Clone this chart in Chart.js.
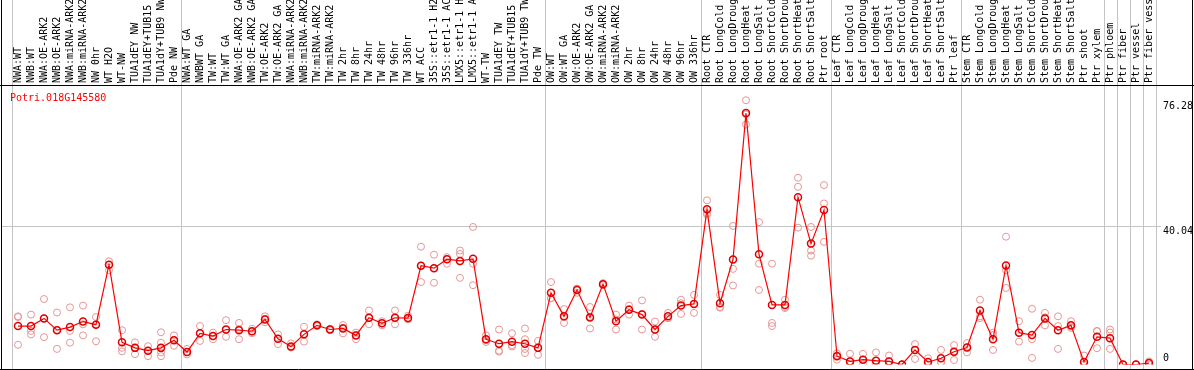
<!DOCTYPE html>
<html>
<head>
<meta charset="utf-8">
<script src="https://cdn.jsdelivr.net/npm/chart.js@4.4.1/dist/chart.umd.min.js"></script>
<style>
  html, body { margin:0; padding:0; background:#fff; overflow:hidden; }
  #wrap { width:1194px; height:370px; }
</style>
</head>
<body>
<div id="wrap"><canvas id="graphe" width="1194" height="370"></canvas></div>
<script>
// expression profile, one gene: mean line + replicate circles
const geneName = 'Potri.018G145580';

const samples = [
  'NWA:WT','NWB:WT','NWA:OE-ARK2','NWB:OE-ARK2','NWA:miRNA-ARK2','NWB:miRNA-ARK2','NW 0hr','WT H2O','WT-NW',
  'TUA1dEY NW','TUA1dEY+TUB15 NW','TUA1dY+TUB9 NW','Pde NW',
  'NWA:WT GA','NWBWT GA','TW:WT','TW:WT GA','NWA:OE-ARK2 GA','NWB:OE-ARK2 GA','TW:OE-ARK2','TW:OE-ARK2 GA',
  'NWA:miRNA-ARK2 GA','NWB:miRNA-ARK2 GA','TW:miRNA-ARK2','TW:miRNA-ARK2 GA',
  'TW 2hr','TW 8hr','TW 24hr','TW 48hr','TW 96hr','TW 336hr','WT ACC',
  '35S::etr1-1 H2O','35S::etr1-1 ACC','LMX5::etr1-1 H2O','LMX5::etr1-1 ACC',
  'WT-TW','TUA1dEY TW','TUA1dEY+TUB15 TW','TUA1dY+TUB9 TW','Pde TW',
  'OW:WT','OW:WT GA','OW:OE-ARK2','OW:OE-ARK2 GA','OW:miRNA-ARK2','OW:miRNA-ARK2 GA',
  'OW 2hr','OW 8hr','OW 24hr','OW 48hr','OW 96hr','OW 336hr',
  'Root CTR','Root LongCold','Root LongDrought','Root LongHeat','Root LongSalt',
  'Root ShortCold','Root ShortDrought','Root ShortHeat','Root ShortSalt','Ptr root',
  'Leaf CTR','Leaf LongCold','Leaf LongDrought','Leaf LongHeat','Leaf LongSalt',
  'Leaf ShortCold','Leaf ShortDrought','Leaf ShortHeat','Leaf ShortSalt','Ptr leaf',
  'Stem CTR','Stem LongCold','Stem LongDrought','Stem LongHeat','Stem LongSalt',
  'Stem ShortCold','Stem ShortDrought','Stem ShortHeat','Stem ShortSalt','Ptr shoot','Ptr xylem',
  'Ptr phloem','Ptr fiber','Ptr vessel','Ptr fiber vessel'
];

// sample index where each block starts (vertical separators)
const groupBreaks = [0, 13, 41, 53, 63, 73, 84, 85, 86, 87, 88];

const moyenne = [
  11.1, 11.1, 13.3, 9.9, 10.8, 12.4, 11.5, 28.8, 6.4, 4.8,
  4.0, 4.8, 7.0, 3.6, 9.0, 8.2, 10.1, 9.9, 9.6, 13.0,
  7.4, 5.2, 8.7, 11.3, 10.1, 10.4, 8.4, 13.5, 11.9, 13.5,
  13.4, 28.5, 27.8, 30.4, 29.9, 30.5, 7.3, 6.0, 6.6, 6.0,
  4.8, 20.7, 13.9, 21.5, 13.6, 23.2, 12.5, 15.8, 14.4, 10.1,
  13.9, 17.0, 17.5, 44.8, 17.7, 30.3, 72.6, 31.8, 17.2, 17.2,
  48.3, 34.9, 44.6, 2.4, 0.9, 1.4, 1.1, 0.9, 0, 4.2,
  0.7, 1.8, 3.7, 4.9, 15.6, 7.3, 28.6, 9.2, 8.5, 13.3,
  9.9, 11.3, 0.7, 8.0, 7.6, 0, 0, 0.4
];

const rep1 = [
  13.7, 14.4, 18.9, 15.0, 16.5, 17.0, 13.7, 29.8, 9.9, 6.4,
  5.3, 9.3, 8.4, 4.5, 11.1, 9.2, 12.8, 12.0, 10.3, 13.9,
  8.7, 6.1, 10.9, 11.6, 10.3, 11.4, 9.2, 15.6, 12.5, 15.6,
  14.1, 34.0, 31.7, 31.0, 32.9, 39.7, 8.4, 10.1, 9.0, 10.4,
  6.8, 23.8, 16.0, 21.9, 16.6, 23.5, 14.4, 17.0, 18.5, 12.4,
  14.9, 18.7, 20.1, 47.4, 20.1, 40.0, 76.28, 41.1, 29.1, 18.7,
  53.9, 39.7, 51.8, 3.2, 3.1, 3.1, 3.5, 2.6, 0, 5.9,
  1.8, 4.2, 5.6, 6.2, 18.7, 9.2, 36.9, 12.5, 16.1, 14.9,
  13.9, 12.5, 2.6, 9.7, 10.1, 0, 0, 0.9
];

const rep2 = [
  13.9, 9.7, 13.3, 10.0, 9.7, 11.6, 11.6, 28.8, 4.8, 4.8,
  4.0, 3.5, 7.0, 3.6, 9.0, 8.2, 10.0, 10.2, 9.5, 13.2,
  7.4, 5.0, 8.7, 11.3, 10.1, 10.6, 8.5, 13.4, 11.9, 13.4,
  13.2, 28.5, 27.8, 30.4, 31.9, 29.1, 7.0, 4.0, 5.6, 4.5,
  4.8, 19.2, 13.7, 21.9, 13.8, 23.2, 13.0, 16.0, 14.6, 9.9,
  13.4, 17.7, 17.5, 43.7, 16.6, 27.6, 72.2, 29.1, 12.0, 16.6,
  51.3, 32.9, 46.5, 2.6, 0.9, 1.4, 1.1, 0.9, 0, 4.2,
  0.7, 0.7, 3.5, 4.9, 13.9, 8.5, 27.2, 9.2, 7.3, 13.6,
  11.1, 11.0, 0.7, 9.6, 9.2, 0, 0, 0.4
];

const rep3 = [
  5.7, 8.7, 7.9, 4.5, 6.3, 8.4, 6.7, 27.2, 3.8, 3.0,
  2.4, 2.4, 5.4, 2.9, 6.8, 7.3, 8.0, 7.3, 9.0, 12.2,
  5.9, 4.9, 6.6, 11.1, 9.9, 9.0, 7.3, 11.6, 11.3, 11.6,
  13.0, 23.8, 23.6, 29.1, 25.0, 22.9, 6.5, 3.7, 5.2, 3.3,
  2.8, 19.1, 12.0, 20.7, 10.4, 22.9, 10.1, 14.4, 10.1, 8.0,
  13.4, 14.6, 14.9, 43.3, 16.4, 22.8, 69.3, 21.5, 11.1, 16.3,
  39.5, 31.4, 35.4, 1.4, 0, 0, 0, 0, 0, 1.6,
  0, 0.5, 1.3, 3.5, 13.4, 4.2, 22.1, 6.6, 1.9, 11.3,
  4.5, 10.6, 0, 4.7, 4.5, 0, 0, 0
];

// a few samples show a fourth replicate
const rep4 = samples.map(() => null);
rep4[11] = 6.3; rep4[34] = 29.8; rep4[39] = 7.3;

const yTicks = [76.28, 40.04, 0];
const yGrid = [40.04];
const yMax = 80.4;

const MONO = '10px "DejaVu Sans Mono", "Liberation Mono", monospace';

const cadre = {
  id: 'cadre',
  beforeDatasetsDraw(chart) {
    const ctx = chart.ctx, xs = chart.scales.x, ys = chart.scales.y;
    const pas = xs.getPixelForValue(1) - xs.getPixelForValue(0);
    ctx.save();
    ctx.strokeStyle = '#c4c4c4';
    ctx.lineWidth = 1;
    groupBreaks.forEach(b => {
      const x = Math.round(xs.getPixelForValue(0) + (b - 0.5) * pas) + 0.5;
      ctx.beginPath(); ctx.moveTo(x, 0); ctx.lineTo(x, chart.height); ctx.stroke();
    });
    yGrid.forEach(v => {
      const y = Math.round(ys.getPixelForValue(v)) + 0.5;
      ctx.beginPath(); ctx.moveTo(1, y); ctx.lineTo(1161, y); ctx.stroke();
    });
    ctx.restore();
  },
  afterDraw(chart) {
    const ctx = chart.ctx, xs = chart.scales.x, ys = chart.scales.y;
    const W = chart.width, H = chart.height;
    ctx.save();
    // black frame + separator under the labels
    ctx.strokeStyle = '#000';
    ctx.lineWidth = 1;
    ctx.beginPath();
    ctx.moveTo(1.5, 0); ctx.lineTo(1.5, H);
    ctx.moveTo(W - 1.5, 0); ctx.lineTo(W - 1.5, H);
    ctx.moveTo(0, 85.5); ctx.lineTo(W, 85.5);
    ctx.moveTo(0, 369.5); ctx.lineTo(W, 369.5);
    ctx.stroke();

    // rotated sample labels, clipped to the header band
    ctx.save();
    ctx.beginPath(); ctx.rect(2, 0, W - 4, 84); ctx.clip();
    ctx.font = MONO;
    ctx.fillStyle = '#000';
    ctx.textAlign = 'left';
    ctx.textBaseline = 'middle';
    samples.forEach((s, i) => {
      ctx.save();
      ctx.translate(xs.getPixelForValue(i) + 0.5, 83);
      ctx.rotate(-Math.PI / 2);
      ctx.fillText(s, 0, 0);
      ctx.restore();
    });
    ctx.restore();

    // gene name
    ctx.font = MONO;
    ctx.fillStyle = '#ff0000';
    ctx.textAlign = 'left';
    ctx.textBaseline = 'alphabetic';
    ctx.fillText(geneName, 10, 101);

    // y values on the right
    ctx.fillStyle = '#000';
    yTicks.forEach(v => {
      const y = ys.getPixelForValue(v);
      if (v === 0) { ctx.textBaseline = 'bottom'; ctx.fillText(String(v), 1163, y - 1); }
      else { ctx.textBaseline = 'top'; ctx.fillText(v.toFixed(2), 1163, y + 1); }
    });
    ctx.restore();
  }
};

const repStyle = {
  showLine: false,
  pointRadius: 3.5,
  pointBorderWidth: 1,
  pointBorderColor: '#e99494',
  pointBackgroundColor: 'rgba(0,0,0,0)',
  borderColor: '#e99494',
  backgroundColor: 'rgba(0,0,0,0)'
};

new Chart(document.getElementById('graphe'), {
  type: 'line',
  data: {
    labels: samples,
    datasets: [
      { label: 'moyenne', data: moyenne, borderColor: '#ff0000', borderWidth: 1.2, tension: 0,
        pointRadius: 3.5, pointBorderWidth: 1.5, pointBorderColor: '#e00000',
        pointBackgroundColor: 'rgba(0,0,0,0)', backgroundColor: 'rgba(0,0,0,0)' },
      Object.assign({ label: 'rep1', data: rep1 }, repStyle),
      Object.assign({ label: 'rep2', data: rep2 }, repStyle),
      Object.assign({ label: 'rep3', data: rep3 }, repStyle),
      Object.assign({ label: 'rep4', data: rep4 }, repStyle)
    ]
  },
  options: {
    responsive: false,
    devicePixelRatio: 1,
    animation: false,
    layout: { padding: { left: 11.5, right: 38.5, top: 86, bottom: 1 } },
    scales: {
      x: { type: 'category', display: false, offset: true },
      y: { display: false, min: 0, max: yMax }
    },
    plugins: { legend: { display: false }, tooltip: { enabled: false } }
  },
  plugins: [cadre]
});
</script>
</body>
</html>
